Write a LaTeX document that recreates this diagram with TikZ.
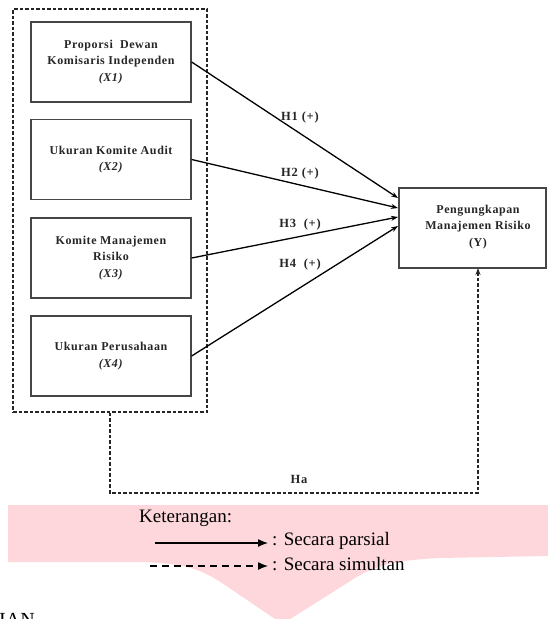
\documentclass[tikz,border=0pt]{standalone}
\usepackage{fontspec}
\setmainfont{Liberation Serif}
\newfontfamily\spacedserif[LetterSpace=5]{Liberation Serif}
\newfontfamily\widespaced[LetterSpace=6]{Liberation Serif}
\usetikzlibrary{arrows.meta}
\definecolor{pinkband}{RGB}{253,215,219}
\definecolor{boxline}{RGB}{70,70,70}
\tikzset{
  varbox/.style={draw=boxline, line width=1.3pt, minimum width=160pt, minimum height=80pt,
    align=center, inner sep=0pt, font=\spacedserif\fontsize{12}{16.5}\selectfont\bfseries, text=black!85},
  grpbox/.style={draw=black!85, line width=1.4pt, dash pattern=on 3.5pt off 2pt},
  simline/.style={draw=black!85, line width=1.4pt, dash pattern=on 3.5pt off 2pt},
  parrow/.style={draw=black, line width=1.3pt, -{Stealth[length=7pt,width=5pt]}},
  hlabel/.style={font=\widespaced\fontsize{12.5}{14}\selectfont\bfseries, text=black!85, inner sep=0pt},
  legtext/.style={font=\fontsize{19}{22}\selectfont, anchor=west, inner sep=0pt},
}
\begin{document}
\begin{tikzpicture}[x=1pt,y=-1pt]
\useasboundingbox (0,0) rectangle (548,619);
\begin{scope}
\clip (0,0) rectangle (548,619);
% pink background band
\fill[pinkband] (8,505) -- (548,505) -- (548,556) -- (440,558)
  .. controls (395,560) and (375,566) .. (355,578) -- (287,621)
  -- (278,621) -- (222,583) .. controls (200,568) and (180,563) .. (140,562)
  -- (8,562) -- cycle;
\node[anchor=north west, inner sep=0pt, font=\fontsize{20}{22}\selectfont] (ian) at (-1,613) {IAN};
\end{scope}

% group box
\node[grpbox, minimum width=194pt, minimum height=403pt, inner sep=0pt] (grp) at (110,210.5) {};

% variable boxes
\node[varbox] (x1) at (111,62) {Proporsi\ \ Dewan\\Komisaris Independen\\\textit{(X1)}};
\node[varbox] (x2) at (111,159.5) {Ukuran Komite Audit\\\textit{(X2)}};
\node[varbox] (x3) at (111,258) {Komite Manajemen\\Risiko\\\textit{(X3)}};
\node[varbox] (x4) at (111,356) {Ukuran Perusahaan\\\textit{(X4)}};

% dependent box
\node[draw=boxline, line width=1.3pt, minimum width=147pt, minimum height=80pt, inner sep=0pt] (y) at (472.5,228) {};
\node[align=center, inner sep=0pt, font=\spacedserif\fontsize{12}{16.5}\selectfont\bfseries, text=black!85] (ytext) at (478,227)
  {Pengungkapan\\Manajemen Risiko\\(Y)};

% partial arrows
\coordinate (t1) at (398,198);
\coordinate (t2) at (398,208);
\coordinate (t3) at (398,217);
\coordinate (t4) at (398,226);
\draw[parrow] (x1.east) -- (t1);
\draw[parrow] (x2.east) -- (t2);
\draw[parrow] (x3.east) -- (t3);
\draw[parrow] (x4.east) -- (t4);

\node[hlabel] (h1) at (300,117) {H1 (+)};
\node[hlabel] (h2) at (300,173) {H2 (+)};
\node[hlabel] (h3) at (300,224) {H3\ \ (+)};
\node[hlabel] (h4) at (300,264) {H4\ \ (+)};

% simultaneous connector
\coordinate (ha) at (478,493);
\coordinate (yin) at (478,268);
\draw[simline, -{Stealth[length=7pt,width=5pt]}] (grp.south) |- (ha) -- (yin);
\node[hlabel] (halabel) at (299,479) {Ha};

% legend
\node[legtext] (ket) at (139,518) {Keterangan:};
\coordinate (la1) at (155,543);
\coordinate (lb1) at (268,543);
\coordinate (la2) at (150,566);
\coordinate (lb2) at (268,566);
\draw[line width=1.3pt, -{Latex[length=10pt,width=8pt]}] (la1) -- (lb1);
\draw[line width=1.3pt, dash pattern=on 7pt off 5pt, -{Latex[length=10pt,width=8pt]}] (la2) -- (lb2);
\node[legtext] (lg1) at (272,541) {: Secara parsial};
\node[legtext] (lg2) at (272,564) {: Secara simultan};
\end{tikzpicture}
\end{document}
